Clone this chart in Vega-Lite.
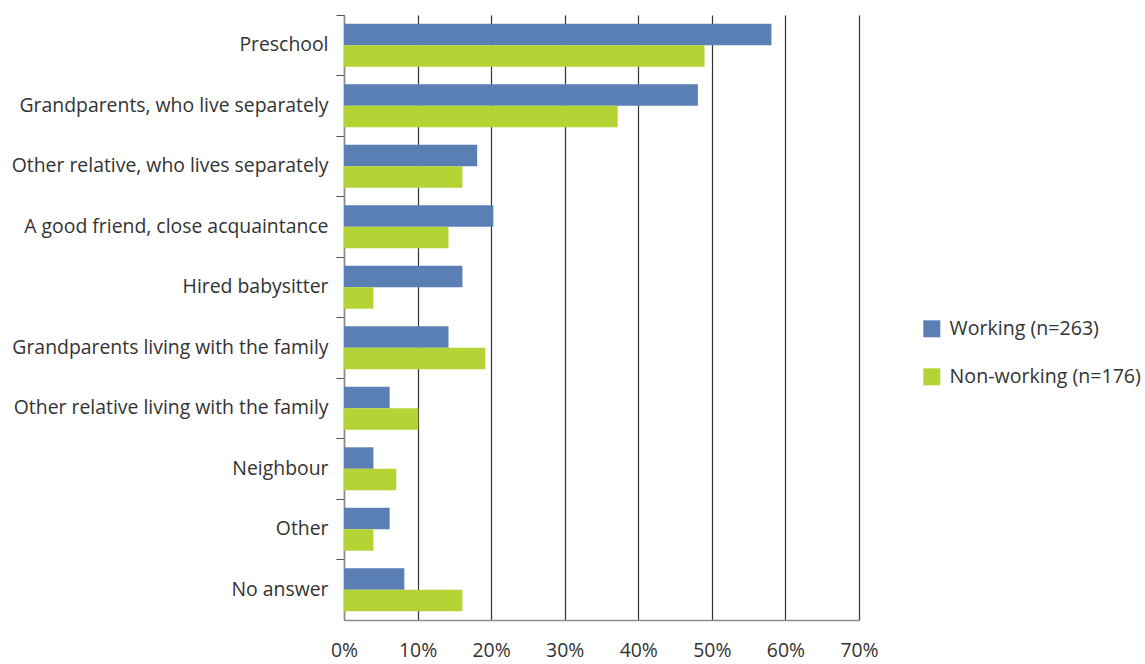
{
  "$schema": "https://vega.github.io/schema/vega-lite/v6.json",
  "width": 515,
  "height": 605,
  "autosize": {"type": "none"},
  "padding": {"left": 344, "top": 15, "right": 286, "bottom": 44},
  "background": "white",
  "config": {
    "font": "Open Sans",
    "view": {"stroke": null}
  },
  "data": {
    "values": [
      {"category": "Preschool", "group": "Working (n=263)", "value": 0.581},
      {"category": "Preschool", "group": "Non-working (n=176)", "value": 0.490},
      {"category": "Grandparents, who live separately", "group": "Working (n=263)", "value": 0.481},
      {"category": "Grandparents, who live separately", "group": "Non-working (n=176)", "value": 0.372},
      {"category": "Other relative, who lives separately", "group": "Working (n=263)", "value": 0.181},
      {"category": "Other relative, who lives separately", "group": "Non-working (n=176)", "value": 0.161},
      {"category": "A good friend, close acquaintance", "group": "Working (n=263)", "value": 0.203},
      {"category": "A good friend, close acquaintance", "group": "Non-working (n=176)", "value": 0.142},
      {"category": "Hired babysitter", "group": "Working (n=263)", "value": 0.161},
      {"category": "Hired babysitter", "group": "Non-working (n=176)", "value": 0.040},
      {"category": "Grandparents living with the family", "group": "Working (n=263)", "value": 0.142},
      {"category": "Grandparents living with the family", "group": "Non-working (n=176)", "value": 0.192},
      {"category": "Other relative living with the family", "group": "Working (n=263)", "value": 0.062},
      {"category": "Other relative living with the family", "group": "Non-working (n=176)", "value": 0.101},
      {"category": "Neighbour", "group": "Working (n=263)", "value": 0.040},
      {"category": "Neighbour", "group": "Non-working (n=176)", "value": 0.071},
      {"category": "Other", "group": "Working (n=263)", "value": 0.062},
      {"category": "Other", "group": "Non-working (n=176)", "value": 0.040},
      {"category": "No answer", "group": "Working (n=263)", "value": 0.082},
      {"category": "No answer", "group": "Non-working (n=176)", "value": 0.161}
    ]
  },
  "mark": {"type": "bar"},
  "encoding": {
    "y": {
      "field": "category",
      "type": "nominal",
      "sort": null,
      "scale": {"paddingInner": 0, "paddingOuter": 0},
      "axis": {
        "title": null,
        "bandPosition": 0,
        "domainColor": "#8c8c8c",
        "domainWidth": 1.5,
        "tickColor": "#555555",
        "tickSize": 8,
        "tickWidth": 1,
        "labelFontSize": 19.4,
        "labelColor": "#333333",
        "labelPadding": 8,
        "labelBound": false,
        "labelOverlap": false,
        "labelLimit": 400
      }
    },
    "yOffset": {
      "field": "group",
      "type": "nominal",
      "sort": ["Working (n=263)", "Non-working (n=176)"],
      "scale": {"paddingOuter": 0.41, "paddingInner": 0}
    },
    "x": {
      "field": "value",
      "type": "quantitative",
      "scale": {"domain": [0, 0.7], "nice": false},
      "axis": {
        "title": null,
        "format": ".0%",
        "values": [0, 0.1, 0.2, 0.3, 0.4, 0.5, 0.6, 0.7],
        "grid": true,
        "gridColor": "#333333",
        "gridWidth": 1.2,
        "domainColor": "#8c8c8c",
        "domainWidth": 1.5,
        "ticks": false,
        "labelFontSize": 19.4,
        "labelColor": "#333333",
        "labelPadding": 21,
        "labelFlush": false
      }
    },
    "color": {
      "field": "group",
      "type": "nominal",
      "sort": ["Working (n=263)", "Non-working (n=176)"],
      "scale": {"domain": ["Working (n=263)", "Non-working (n=176)"], "range": ["#5a7fb4", "#b4d334"]},
      "legend": {
        "title": null,
        "orient": "none",
        "legendX": 578,
        "legendY": 304,
        "symbolType": "square",
        "symbolSize": 289,
        "symbolStrokeWidth": 0,
        "labelFontSize": 19.6,
        "labelColor": "#333333",
        "labelOffset": 8,
        "rowPadding": 27,
        "labelLimit": 300
      }
    }
  }
}
